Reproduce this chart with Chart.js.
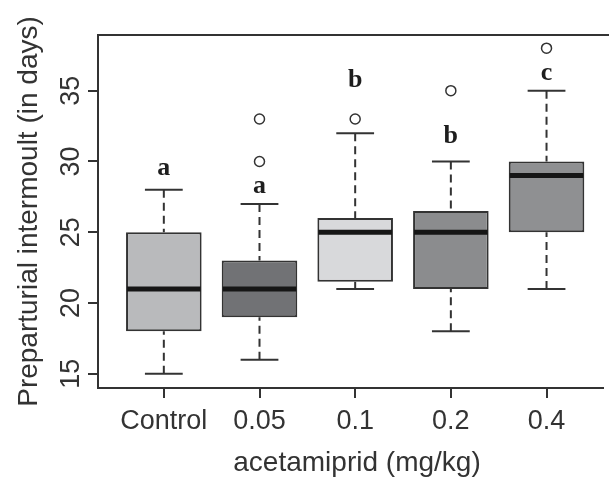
<!DOCTYPE html>
<html>
<head>
<meta charset="utf-8">
<script src="https://cdn.jsdelivr.net/npm/chart.js@4.4.1/dist/chart.umd.min.js"></script>
<style>
  html, body { margin: 0; padding: 0; background: #fff; }
  #wrap { width: 609px; height: 477px; position: relative; }
</style>
</head>
<body>
<div id="wrap"><canvas id="chart"></canvas></div>
<script>
// Boxplot of preparturial intermoult per acetamiprid dose
// boxes are floating bars, whiskers / medians / letters drawn via a small plugin

const groups = ["Control", "0.05", "0.1", "0.2", "0.4"];
const whiskerLow = [15, 16, 21, 18, 21];
const boxLow = [18, 19, 21.5, 21, 25];
const medians = [21, 21, 25, 25, 29];
const boxHigh = [25, 23, 26, 26.5, 30];
const whiskerHigh = [28, 27, 32, 30, 35];
const outliers = [[], [30, 33], [33], [35], [38]];
const letters = ["a", "a", "b", "b", "c"];
const letterAt = [29.05, 27.8, 35.25, 31.3, 35.75];
const yTicks = [15, 20, 25, 30, 35];

const boxFills = ["#b9babc", "#717275", "#d8d9db", "#8b8c8e", "#8f9092"];
const ink = "#333333";
const sans = "'Liberation Sans', Arial, sans-serif";

function strokeLine(ctx, x1, y1, x2, y2) {
  ctx.beginPath();
  ctx.moveTo(x1, y1);
  ctx.lineTo(x2, y2);
  ctx.stroke();
}

const boxExtras = {
  id: "boxExtras",
  beforeDatasetsDraw(chart) {
    const { ctx, scales } = chart;
    const { x, y } = scales;
    const bars = chart.getDatasetMeta(0).data;
    ctx.save();
    ctx.strokeStyle = ink;
    ctx.lineWidth = 2;
    groups.forEach((_, i) => {
      const cx = x.getPixelForValue(i + 1);
      const capHalf = bars[i].width / 4;
      ctx.setLineDash([8, 5]);
      strokeLine(ctx, cx, y.getPixelForValue(whiskerHigh[i]), cx, y.getPixelForValue(boxHigh[i]));
      strokeLine(ctx, cx, y.getPixelForValue(whiskerLow[i]), cx, y.getPixelForValue(boxLow[i]));
      ctx.setLineDash([]);
      const yHi = y.getPixelForValue(whiskerHigh[i]);
      const yLo = y.getPixelForValue(whiskerLow[i]);
      strokeLine(ctx, cx - capHalf, yHi, cx + capHalf, yHi);
      strokeLine(ctx, cx - capHalf, yLo, cx + capHalf, yLo);
    });
    ctx.restore();
  },
  afterDatasetsDraw(chart) {
    const { ctx, scales, chartArea } = chart;
    const { x, y } = scales;
    const bars = chart.getDatasetMeta(0).data;
    ctx.save();
    // medians
    ctx.strokeStyle = "#161616";
    ctx.lineWidth = 5;
    groups.forEach((_, i) => {
      const cx = x.getPixelForValue(i + 1);
      const half = bars[i].width / 2 - 1;
      const my = y.getPixelForValue(medians[i]);
      strokeLine(ctx, cx - half, my, cx + half, my);
    });
    // significance letters
    ctx.fillStyle = "#1e1e1e";
    ctx.font = "bold 26px 'Liberation Serif', 'Times New Roman', serif";
    ctx.textAlign = "center";
    ctx.textBaseline = "alphabetic";
    letters.forEach((t, i) => {
      ctx.fillText(t, x.getPixelForValue(i + 1), y.getPixelForValue(letterAt[i]));
    });
    // top frame line (right side is cropped in the original)
    ctx.strokeStyle = ink;
    ctx.lineWidth = 2;
    strokeLine(ctx, chartArea.left, chartArea.top, chart.width, chartArea.top);
    ctx.restore();
  },
  afterDraw(chart) {
    const { ctx, scales, chartArea } = chart;
    const { x, y } = scales;
    ctx.save();
    ctx.fillStyle = ink;
    ctx.textAlign = "center";
    ctx.textBaseline = "alphabetic";
    ctx.font = "27px " + sans;
    groups.forEach((g, i) => {
      ctx.fillText(g, x.getPixelForValue(i + 1), chartArea.bottom + 41);
    });
    yTicks.forEach((v) => {
      ctx.save();
      ctx.translate(chartArea.left - 19, y.getPixelForValue(v));
      ctx.rotate(-Math.PI / 2);
      ctx.fillText(String(v), 0, 0);
      ctx.restore();
    });
    ctx.font = "28px " + sans;
    ctx.fillText("acetamiprid (mg/kg)", 357, chartArea.bottom + 83);
    ctx.save();
    ctx.translate(37, (chartArea.top + chartArea.bottom) / 2);
    ctx.rotate(-Math.PI / 2);
    ctx.fillText("Preparturial intermoult (in days)", 0, 0);
    ctx.restore();
    ctx.restore();
  },
};

const boxData = groups.map((_, i) => ({ x: i + 1, y: [boxLow[i], boxHigh[i]] }));
const outlierData = [];
outliers.forEach((vals, i) => {
  vals.forEach((v) => outlierData.push({ x: i + 1, y: v }));
});

new Chart(document.getElementById("chart"), {
  type: "bar",
  data: {
    datasets: [
      {
        type: "bar",
        data: boxData,
        backgroundColor: boxFills,
        borderColor: ink,
        borderWidth: 2,
        borderSkipped: false,
        barPercentage: 0.79,
        categoryPercentage: 1,
      },
      {
        type: "scatter",
        data: outlierData,
        pointRadius: 5,
        pointBorderWidth: 1.5,
        pointBackgroundColor: "#fff",
        pointBorderColor: ink,
      },
    ],
  },
  options: {
    responsive: true,
    maintainAspectRatio: false,
    animation: false,
    layout: { padding: { top: 35, left: 0, right: 0, bottom: 0 } },
    plugins: {
      legend: { display: false },
      tooltip: { enabled: false },
    },
    scales: {
      x: {
        type: "linear",
        offset: false,
        min: 0.312,
        max: 5.585,
        afterBuildTicks: (s) => {
          s.ticks = groups.map((_, i) => ({ value: i + 1 }));
        },
        afterFit: (s) => {
          s.height = 89;
        },
        ticks: { display: false },
        grid: { offset: false, drawOnChartArea: false, tickLength: 10, color: ink, lineWidth: 2 },
        border: { display: true, color: ink, width: 2 },
      },
      y: {
        min: 14.0,
        max: 38.93,
        afterBuildTicks: (s) => {
          s.ticks = yTicks.map((v) => ({ value: v }));
        },
        afterFit: (s) => {
          s.width = 98;
        },
        ticks: { display: false },
        grid: { drawOnChartArea: false, tickLength: 10, color: ink, lineWidth: 2 },
        border: { display: true, color: ink, width: 2 },
      },
    },
  },
  plugins: [boxExtras],
});
</script>
</body>
</html>
